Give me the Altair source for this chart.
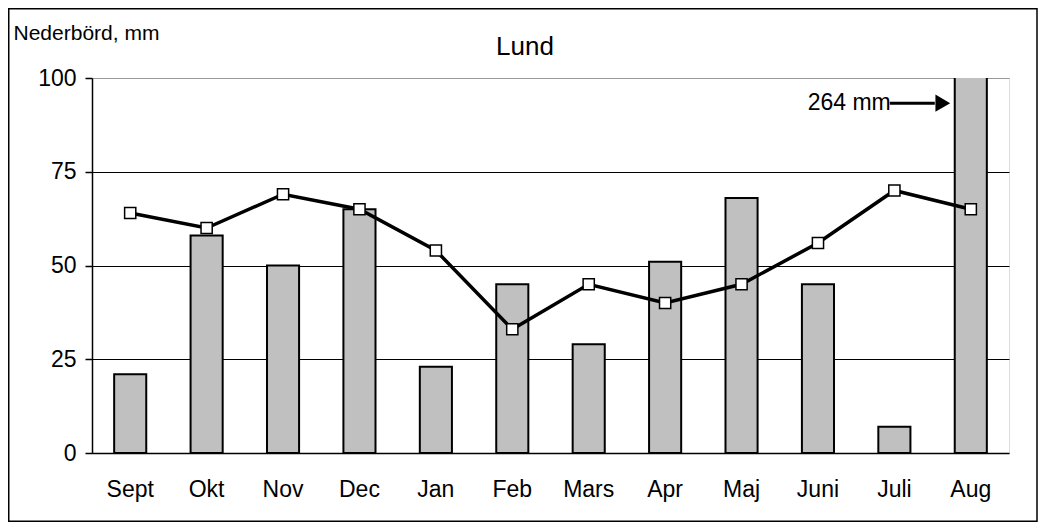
import altair as alt
import pandas as pd

months = ["Sept", "Okt", "Nov", "Dec", "Jan", "Feb", "Mars", "Apr", "Maj", "Juni", "Juli", "Aug"]
bar_values = [21, 58, 50, 65, 23, 45, 29, 51, 68, 45, 7, 264]
line_values = [64, 60, 69, 65, 54, 33, 45, 40, 45, 56, 70, 65]
y_ticks = [0, 25, 50, 75, 100]
title_text = "Lund"
note_text = "264 mm"
note_month = "Aug"
note_y = 93.3

FONT = "Liberation Sans"

df = pd.DataFrame({"month": months, "bar": bar_values, "line": line_values})

x_scale = alt.Scale(domain=months, paddingInner=0.58, paddingOuter=0.29)
y_scale = alt.Scale(domain=[0, 100], nice=False)

x_enc = alt.X("month:N", scale=x_scale, sort=months,
              axis=alt.Axis(title=None, ticks=False, labelAngle=0, labelFontSize=23,
                            labelFont=FONT, labelColor="black", labelPadding=25,
                            domainColor="black", domainWidth=1.5))

base = alt.Chart(df)

bars = base.mark_bar(color="#c0c0c0", stroke="black", strokeWidth=2, clip=True).encode(
    x=x_enc,
    y=alt.Y("bar:Q", scale=y_scale,
            axis=alt.Axis(values=y_ticks, title="Nederbörd, mm", titleAngle=0,
                          titleFont=FONT, titleFontSize=21, titleFontWeight="normal",
                          titleColor="black", titleAlign="left", titleBaseline="alphabetic",
                          titleX=-79, titleY=-39,
                          labelFont=FONT, labelFontSize=23, labelColor="black", labelPadding=9,
                          tickColor="black", tickSize=7, tickWidth=1.5,
                          domainColor="black", domainWidth=1.5,
                          grid=True, gridWidth=1.2,
                          gridColor={"condition": {"test": "datum.value == 100 || datum.value == 0", "value": "#9a9a9a"}, "value": "black"})),
)

line = base.mark_line(color="black", strokeWidth=3.5).encode(
    x=alt.X("month:N", scale=x_scale, sort=months),
    y=alt.Y("line:Q", scale=y_scale),
)

points = base.mark_point(shape="square", filled=True, fill="white", stroke="black",
                         strokeWidth=1.5, size=125, opacity=1).encode(
    x=alt.X("month:N", scale=x_scale, sort=months),
    y=alt.Y("line:Q", scale=y_scale),
)

note_df = pd.DataFrame({"month": [note_month], "y": [note_y], "label": [note_text],
                        "title": [title_text]})
note_base = alt.Chart(note_df)

arrow_line = note_base.mark_rule(color="black", strokeWidth=3, xOffset=-81, x2Offset=-36).encode(
    x=alt.X("month:N", scale=x_scale, sort=months),
    x2=alt.X2("month:N"),
    y=alt.Y("y:Q", scale=y_scale),
)

arrow_head = note_base.mark_point(shape="triangle-right", filled=True, color="black",
                                  size=290, opacity=1, xOffset=-28).encode(
    x=alt.X("month:N", scale=x_scale, sort=months),
    y=alt.Y("y:Q", scale=y_scale),
)

note = note_base.mark_text(align="right", baseline="middle", font=FONT, fontSize=23,
                           color="black", dx=-80).encode(
    x=alt.X("month:N", scale=x_scale, sort=months),
    y=alt.Y("y:Q", scale=y_scale),
    text="label:N",
)

title = note_base.mark_text(align="center", baseline="alphabetic", font=FONT, fontSize=26,
                            color="black").encode(
    x=alt.value(433), y=alt.value(-23), text="title:N"
)

frame = note_base.mark_rect(fill=None, stroke="black", strokeWidth=1.5, clip=False).encode(
    x=alt.value(-83.25), x2=alt.value(945), y=alt.value(-69.25), y2=alt.value(443.25)
)

chart = alt.layer(bars, line, points, arrow_line, arrow_head, note, title, frame).properties(
    width=917, height=375,
    padding={"left": 84, "top": 70, "right": 29, "bottom": 69},
    autosize=alt.AutoSizeParams(type="none"),
).configure_view(stroke="#9a9a9a", strokeWidth=1.5).configure(background="white")

chart.save("out.html", embed_options={"renderer": "svg", "actions": False})
